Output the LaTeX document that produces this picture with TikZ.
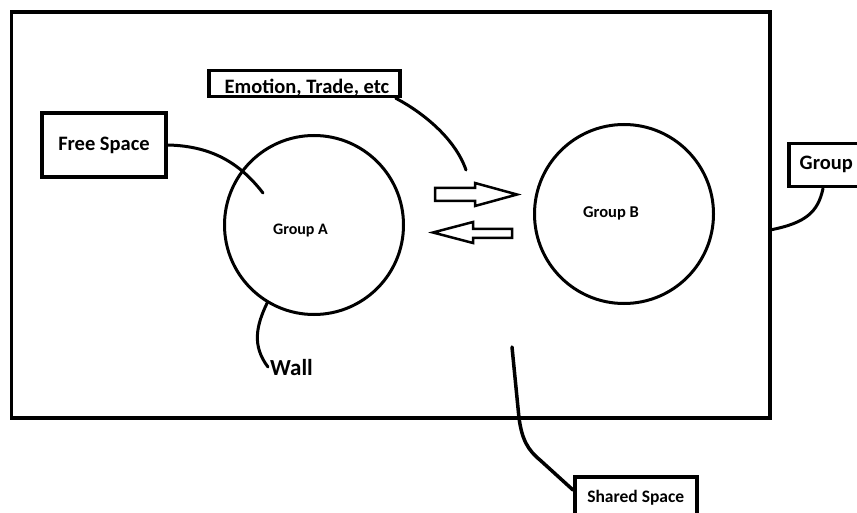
\documentclass[tikz,border=0pt]{standalone}
\usepackage{fontspec}
\setmainfont{Carlito}
\begin{document}
\begin{tikzpicture}[x=1pt,y=-1pt,
	tag/.style={draw, line width=3.5pt, inner sep=0pt, font=\bfseries\fontsize{20.5}{24}\selectfont},
	ring/.style={draw, circle, line width=3pt, inner sep=0pt, minimum size=179pt},
	lead/.style={line width=3pt, line cap=round},
	flow/.style={line width=2.5pt, line join=miter}]
	\useasboundingbox (0,0) rectangle (857,513);
	
	\node[draw, line width=3.5pt, inner sep=0pt, minimum width=758.5pt, minimum height=406pt] (field) at (390.75,215) {};
	
	\node[ring] (circA) at (314,225) {};
	\node[ring] (circB) at (624,214) {};
	\node[font=\bfseries\fontsize{16}{18}\selectfont] (nameA) at (300.5,231) {Group A};
	\node[font=\bfseries\fontsize{16.5}{18}\selectfont] (nameB) at (611,213) {Group B};
	
	\node[tag, minimum width=124pt, text height=38pt, text depth=26pt] (free) at (104,145) {Free Space};
	\node[tag, minimum width=191pt, text height=23.5pt, text depth=2.5pt] (emotion) at (304.5,83.5) {\hspace{5pt}Emotion, Trade, etc};
	\node[tag, anchor=north west, minimum width=90pt, text height=26pt, text depth=17pt] (group) at (787,142) {Group\kern15pt};
	\node[tag, anchor=north west, minimum width=122pt, text height=26pt, text depth=34pt, font=\bfseries\fontsize{17.5}{20}\selectfont] (shared) at (573,475) {Shared Space};
	\node[inner sep=2pt, anchor=base west, font=\bfseries\fontsize{23}{28}\selectfont] (wall) at (268,375) {Wall};
	
	\coordinate (freetip) at (263,193);
	\coordinate (emotiontip) at (466,170);
	\coordinate (grouptip) at (770,230);
	\coordinate (sharedtip) at (512,347);
	
	% leaders
	\draw[lead] (free.east) .. controls (215,146) and (242,166) .. (freetip);
	\draw[lead] ([xshift=-6pt]emotion.south east) .. controls (422,112) and (455,138) .. (emotiontip);
	\draw[lead] ([xshift=36pt]group.south west) .. controls (818,212) and (806,223) .. (grouptip);
	\draw[lead] (circA.-121) .. controls (256,326) and (252,346) .. (wall.west);
	\draw[lead, line width=3.5pt] (sharedtip) -- (519,418) .. controls (522,440) and (528,450) .. (540,460) -- ([yshift=-15pt]shared.north west);
	
	% exchange arrows
	\draw[flow] (435,188) -- (475,188) -- (475,183) -- (517,194.5) -- (475,206) -- (475,201) -- (435,201) -- cycle;
	\draw[flow] (512,229) -- (473,229) -- (473,222) -- (433,232.5) -- (473,243) -- (473,238) -- (512,238) -- cycle;
\end{tikzpicture}
\end{document}
